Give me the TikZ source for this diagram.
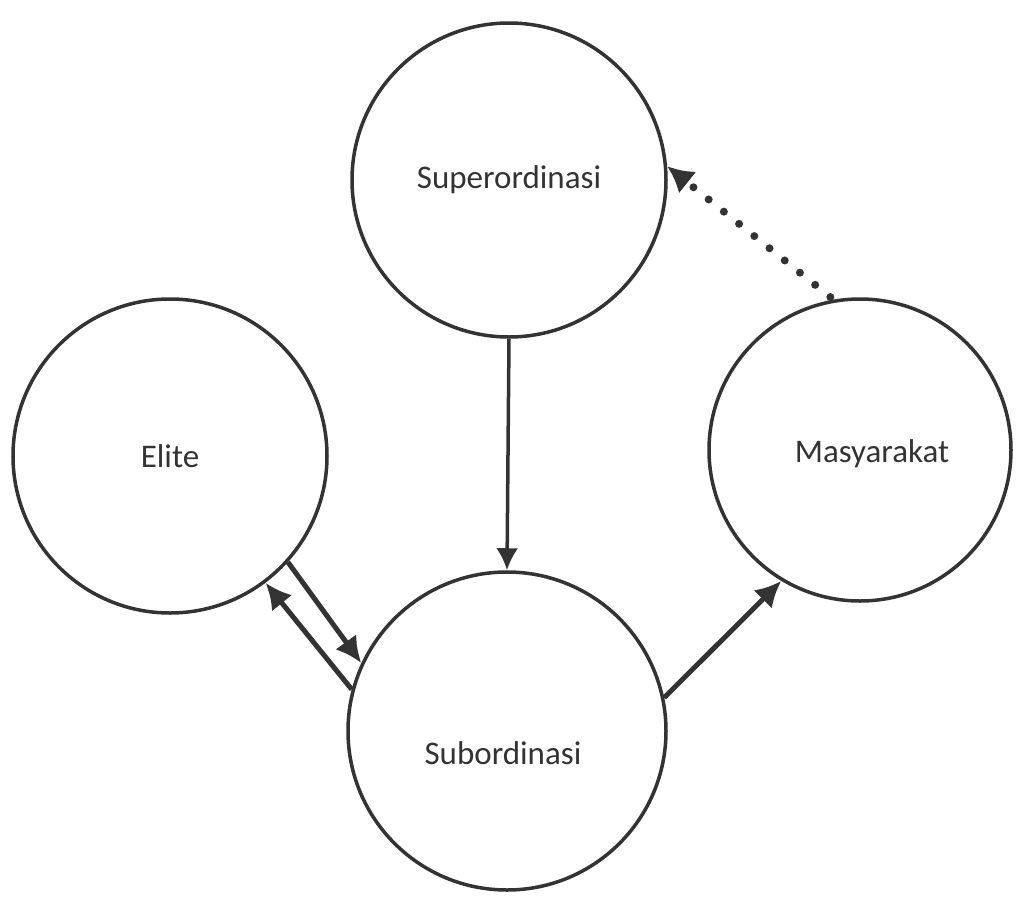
\documentclass[tikz,border=0pt]{standalone}
\usepackage{fontspec}
\setmainfont{Carlito}
\usetikzlibrary{arrows.meta}
\definecolor{ink}{HTML}{333333}
\tikzset{
  bubble/.style={circle, draw=ink, line width=3.5pt, inner sep=0pt, text=ink,
    font=\fontsize{33}{40}\selectfont},
  link/.style={draw=ink, line width=5pt, -{Latex[length=26pt,width=26pt]}},
  thinlink/.style={draw=ink, line width=3.5pt, -{Latex[length=22pt,width=22pt]}},
  dotlink/.style={draw=ink, line width=8pt, line cap=round, dash pattern=on 0pt off 19.5pt,
    -{Latex[length=26pt,width=28pt]}, shorten <=4pt}
}
\begin{document}
\begin{tikzpicture}[x=1pt,y=-1pt]
\useasboundingbox (0,0) rectangle (1021,900);
\node[bubble, minimum size=314pt] (sup) at (509,180) {Superordinasi};
\node[bubble, minimum size=314pt] (eli) at (170,456) {Elite};
\node[bubble, minimum size=302pt, label={[text=ink,font=\fontsize{33}{40}\selectfont,xshift=12pt,yshift=-4pt]center:Masyarakat}] (mas) at (860,450) {};
\node[bubble, minimum size=318pt, label={[text=ink,font=\fontsize{33}{40}\selectfont,xshift=-4pt,yshift=-22pt]center:Subordinasi}] (sub) at (507,731) {};
\draw[thinlink] (sup.south) -- (sub.north);
\draw[link] (eli.-42) -- (sub.155);
\draw[link] (sub.165) -- (eli.-53);
\draw[link] (sub.12) -- (mas.-121);
\draw[dotlink] (mas.100) -- (sup.5);
\end{tikzpicture}
\end{document}
